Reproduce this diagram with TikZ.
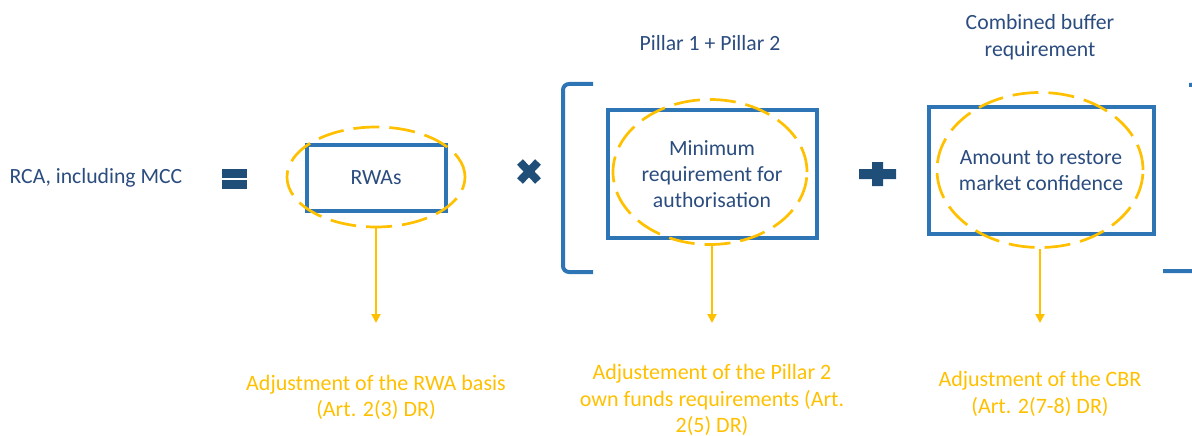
\documentclass[tikz,border=0pt]{standalone}
\usepackage{fontspec}
\setmainfont{Carlito}
\usetikzlibrary{shapes.geometric,arrows.meta}
\definecolor{navy}{HTML}{1F4E79}
\definecolor{boxblue}{HTML}{2E75B6}
\definecolor{gold}{HTML}{FFC000}
\definecolor{txt}{HTML}{2B4C7E}
\begin{document}
\begin{tikzpicture}[x=1pt,y=-1pt,
  lbl/.style={text=txt, font=\fontsize{21.7}{26}\selectfont, align=center, inner sep=0pt},
  box/.style={draw=boxblue, line width=4pt, inner sep=0pt},
  oval/.style={ellipse, draw=gold, line width=2.7pt, dash pattern=on 26pt off 10pt, inner sep=0pt},
  note/.style={text=gold, font=\fontsize{22}{26.5}\selectfont, align=center, inner sep=0pt},
  arr/.style={draw=gold, line width=2pt, -{Triangle[length=9pt,width=9pt]}},
  bracket/.style={draw=boxblue, line width=4pt, rounded corners=6pt},
  sign/.style={fill=navy}]
\useasboundingbox (0,0) rectangle (1192,436);
\clip (0,0) rectangle (1192,436);
% left text
\node[lbl] (rca) at (96,178) {RCA, including MCC};
% equals sign
\path[sign] (222,169) rectangle (247,178);
\path[sign] (222,180) rectangle (247,189);
% RWAs
\node[box, minimum width=139pt, minimum height=66pt] (b1) at (376.5,178) {};
\node[oval, minimum width=178pt, minimum height=100pt] (e1) at (376,177) {};
\node[lbl] (t1) at (376,178) {RWAs};
% times sign
\draw[navy, line width=8pt] (520,162) -- (538,181) (538,162) -- (520,181);
% left bracket
\draw[bracket] (593,84) -- (563,84) -- (563,272) -- (593,272);
% box 2
\node[box, minimum width=209pt, minimum height=128pt] (b2) at (712.5,174) {};
\node[oval, minimum width=194pt, minimum height=145pt] (e2) at (710,172) {};
\node[lbl] (t2) at (712,174) {Minimum\\requirement for\\authorisation};
\node[lbl] (p12) at (710,43) {Pillar 1 + Pillar 2};
% plus sign
\path[sign] (859,169) -- (872,169) -- (872,162) -- (883,162) -- (883,169) -- (896,169)
  -- (896,179) -- (883,179) -- (883,186) -- (872,186) -- (872,179) -- (859,179) -- cycle;
% box 3
\node[box, minimum width=225pt, minimum height=127pt] (b3) at (1041.5,170.5) {};
\node[oval, minimum width=206pt, minimum height=155pt] (e3) at (1040,170) {};
\node[lbl] (t3) at (1041,171) {Amount to restore\\market confidence};
\node[lbl, font=\fontsize{21.7}{27}\selectfont] (cbr) at (1040,37) {Combined buffer\\requirement};
% right bracket (partly off the page)
\draw[bracket] (1163,271) -- (1198,271) -- (1198,85) -- (1189,85);
% arrows
\coordinate (a1) at (376,323);
\coordinate (a2) at (712,323);
\coordinate (a3) at (1040,323);
\draw[arr] (e1.south) -- (a1);
\draw[arr] (e2.south -| a2) -- (a2);
\draw[arr] (e3.south) -- (a3);
% notes
\node[note] (n1) at (376,397.5) {Adjustment of the RWA basis\\(Art. 2(3) DR)};
\node[note] (n2) at (712,400) {Adjustement of the Pillar 2\\own funds requirements (Art.\\2(5) DR)};
\node[note] (n3) at (1040,394) {Adjustment of the CBR\\(Art. 2(7-8) DR)};
\end{tikzpicture}
\end{document}
